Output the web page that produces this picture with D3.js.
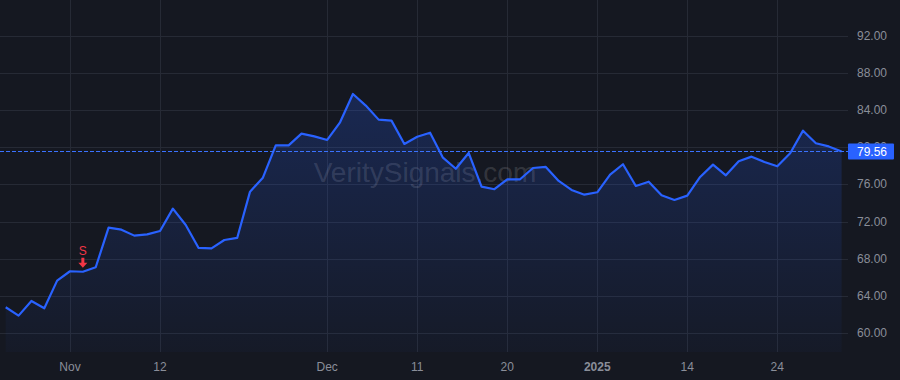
<!DOCTYPE html>
<html>
<head>
<meta charset="utf-8">
<script src="https://cdn.jsdelivr.net/npm/d3@7"></script>
<style>
  html, body { margin: 0; padding: 0; background: #151821; }
  svg { display: block; }
</style>
</head>
<body>
<svg id="chart"></svg>
<script>
// trading days, Oct 25 2024 -> Jan 31 2025
const dates = [
  '2024-10-25','2024-10-28','2024-10-29','2024-10-30','2024-10-31',
  '2024-11-01','2024-11-04','2024-11-05','2024-11-06','2024-11-07','2024-11-08',
  '2024-11-11','2024-11-12','2024-11-13','2024-11-14','2024-11-15',
  '2024-11-18','2024-11-19','2024-11-20','2024-11-21','2024-11-22',
  '2024-11-25','2024-11-26','2024-11-27','2024-11-29',
  '2024-12-02','2024-12-03','2024-12-04','2024-12-05','2024-12-06',
  '2024-12-09','2024-12-10','2024-12-11','2024-12-12','2024-12-13',
  '2024-12-16','2024-12-17','2024-12-18','2024-12-19','2024-12-20',
  '2024-12-23','2024-12-24','2024-12-26','2024-12-27','2024-12-30','2024-12-31',
  '2025-01-02','2025-01-03','2025-01-06','2025-01-07','2025-01-08','2025-01-10',
  '2025-01-13','2025-01-14','2025-01-15','2025-01-16','2025-01-17',
  '2025-01-21','2025-01-22','2025-01-23','2025-01-24',
  '2025-01-27','2025-01-28','2025-01-29','2025-01-30','2025-01-31'
];

const prices = [
  62.77, 61.87, 63.45, 62.66, 65.64,
  66.65, 66.60, 67.08, 71.35, 71.13, 70.49,
  70.63, 70.99, 73.40, 71.64, 69.16,
  69.12, 70.02, 70.24, 75.23, 76.73,
  80.22, 80.22, 81.48, 81.19,
  80.80, 82.70, 85.75, 84.50, 82.99,
  82.88, 80.37, 81.15, 81.58, 78.89,
  77.70, 79.40, 75.77, 75.49, 76.56,
  76.56, 77.78, 77.89, 76.38, 75.41, 74.90,
  75.16, 77.06, 78.18, 75.84, 76.30, 74.84,
  74.33, 74.80, 76.81, 78.14, 76.99,
  78.50, 79.00, 78.43, 77.96,
  79.36, 81.80, 80.44, 80.10, 79.56
];

const yTicks = [60, 64, 68, 72, 76, 80, 84, 88, 92];

const xTicks = [
  { date: '2024-11-01', label: 'Nov', bold: false },
  { date: '2024-11-12', label: '12', bold: false },
  { date: '2024-12-02', label: 'Dec', bold: false },
  { date: '2024-12-11', label: '11', bold: false },
  { date: '2024-12-20', label: '20', bold: false },
  { date: '2025-01-02', label: '2025', bold: true },
  { date: '2025-01-14', label: '14', bold: false },
  { date: '2025-01-24', label: '24', bold: false }
];

const signals = [{ date: '2024-11-04', label: 'S' }];

const lastPrice = prices[prices.length - 1];
const watermark = 'VeritySignals.com';

const width = 900;
const height = 380;
const plotRight = 848;
const plotBottom = 352;

const data = dates.map((d, i) => ({ date: d, value: prices[i] }));

const svg = d3.select('#chart')
  .attr('width', width)
  .attr('height', height)
  .style('font-family', '"Liberation Sans", Arial, sans-serif');

svg.append('rect')
  .attr('width', width)
  .attr('height', height)
  .attr('fill', '#151821');

const x = d3.scalePoint()
  .domain(dates)
  .range([5.7, 841.6]);

const y = d3.scaleLinear()
  .domain([57.95, 95.88])
  .range([plotBottom, 0]);

// gradient under the line
const defs = svg.append('defs');
const grad = defs.append('linearGradient')
  .attr('id', 'areaGrad')
  .attr('x1', 0).attr('y1', 0).attr('x2', 0).attr('y2', 1);
grad.append('stop').attr('offset', '0%').attr('stop-color', '#2962ff').attr('stop-opacity', 0.22);
grad.append('stop').attr('offset', '100%').attr('stop-color', '#2962ff').attr('stop-opacity', 0.03);

// grid
const grid = svg.append('g');
grid.selectAll('line.h')
  .data(yTicks)
  .enter()
  .append('line')
  .attr('class', 'h')
  .attr('x1', 0)
  .attr('x2', plotRight)
  .attr('y1', d => Math.round(y(d)) + 0.5)
  .attr('y2', d => Math.round(y(d)) + 0.5)
  .attr('stroke', '#262a35')
  .attr('stroke-width', 1);

grid.selectAll('line.v')
  .data(xTicks)
  .enter()
  .append('line')
  .attr('class', 'v')
  .attr('x1', d => Math.round(x(d.date)) + 0.5)
  .attr('x2', d => Math.round(x(d.date)) + 0.5)
  .attr('y1', 0)
  .attr('y2', plotBottom)
  .attr('stroke', '#262a35')
  .attr('stroke-width', 1);

// watermark
svg.append('text')
  .attr('x', 425)
  .attr('y', 182)
  .attr('text-anchor', 'middle')
  .attr('font-size', 28)
  .attr('fill', '#ffffff')
  .attr('fill-opacity', 0.14)
  .text(watermark);

// area + line
const area = d3.area()
  .x(d => x(d.date))
  .y0(plotBottom)
  .y1(d => y(d.value));

svg.append('path')
  .datum(data)
  .attr('d', area)
  .attr('fill', 'url(#areaGrad)');

const line = d3.line()
  .x(d => x(d.date))
  .y(d => y(d.value));

svg.append('path')
  .datum(data)
  .attr('d', line)
  .attr('fill', 'none')
  .attr('stroke', '#2962ff')
  .attr('stroke-width', 2.2)
  .attr('stroke-linejoin', 'round');

// last price dotted line
svg.append('line')
  .attr('x1', 0)
  .attr('x2', plotRight)
  .attr('y1', Math.round(y(lastPrice)) + 0.5)
  .attr('y2', Math.round(y(lastPrice)) + 0.5)
  .attr('stroke', '#3a72ff')
  .attr('stroke-width', 1)
  .attr('stroke-dasharray', '4,2')
  .attr('shape-rendering', 'crispEdges');

// sell signal
const sig = svg.append('g');
signals.forEach(s => {
  const sx = x(s.date);
  const sy = y(prices[dates.indexOf(s.date)]);
  sig.append('text')
    .attr('x', sx)
    .attr('y', sy - 17)
    .attr('text-anchor', 'middle')
    .attr('font-size', 12)
    .attr('fill', '#f23645')
    .text(s.label);
  sig.append('path')
    .attr('d', `M${sx - 1.5},${sy - 14} L${sx + 1.5},${sy - 14} L${sx + 1.5},${sy - 9} L${sx + 4.5},${sy - 9} L${sx},${sy - 4} L${sx - 4.5},${sy - 9} L${sx - 1.5},${sy - 9} Z`)
    .attr('fill', '#f23645');
});

// y axis labels
svg.append('g')
  .selectAll('text')
  .data(yTicks)
  .enter()
  .append('text')
  .attr('x', 887)
  .attr('y', d => y(d) + 4)
  .attr('text-anchor', 'end')
  .attr('font-size', 12)
  .attr('fill', '#8a8e99')
  .text(d => d3.format('.2f')(d));

// last price label (covers the 80.00 tick like the original)
const ly = y(lastPrice);
svg.append('rect')
  .attr('x', 848)
  .attr('y', ly - 8)
  .attr('width', 46)
  .attr('height', 16)
  .attr('rx', 1)
  .attr('fill', '#2962ff');
svg.append('text')
  .attr('x', 887)
  .attr('y', ly + 4.5)
  .attr('text-anchor', 'end')
  .attr('font-size', 12)
  .attr('fill', '#ffffff')
  .text(lastPrice.toFixed(2));

// x axis labels
svg.append('g')
  .selectAll('text')
  .data(xTicks)
  .enter()
  .append('text')
  .attr('x', d => x(d.date))
  .attr('y', 371)
  .attr('text-anchor', 'middle')
  .attr('font-size', 12)
  .attr('font-weight', d => d.bold ? 'bold' : 'normal')
  .attr('fill', '#8a8e99')
  .text(d => d.label);
</script>
</body>
</html>
